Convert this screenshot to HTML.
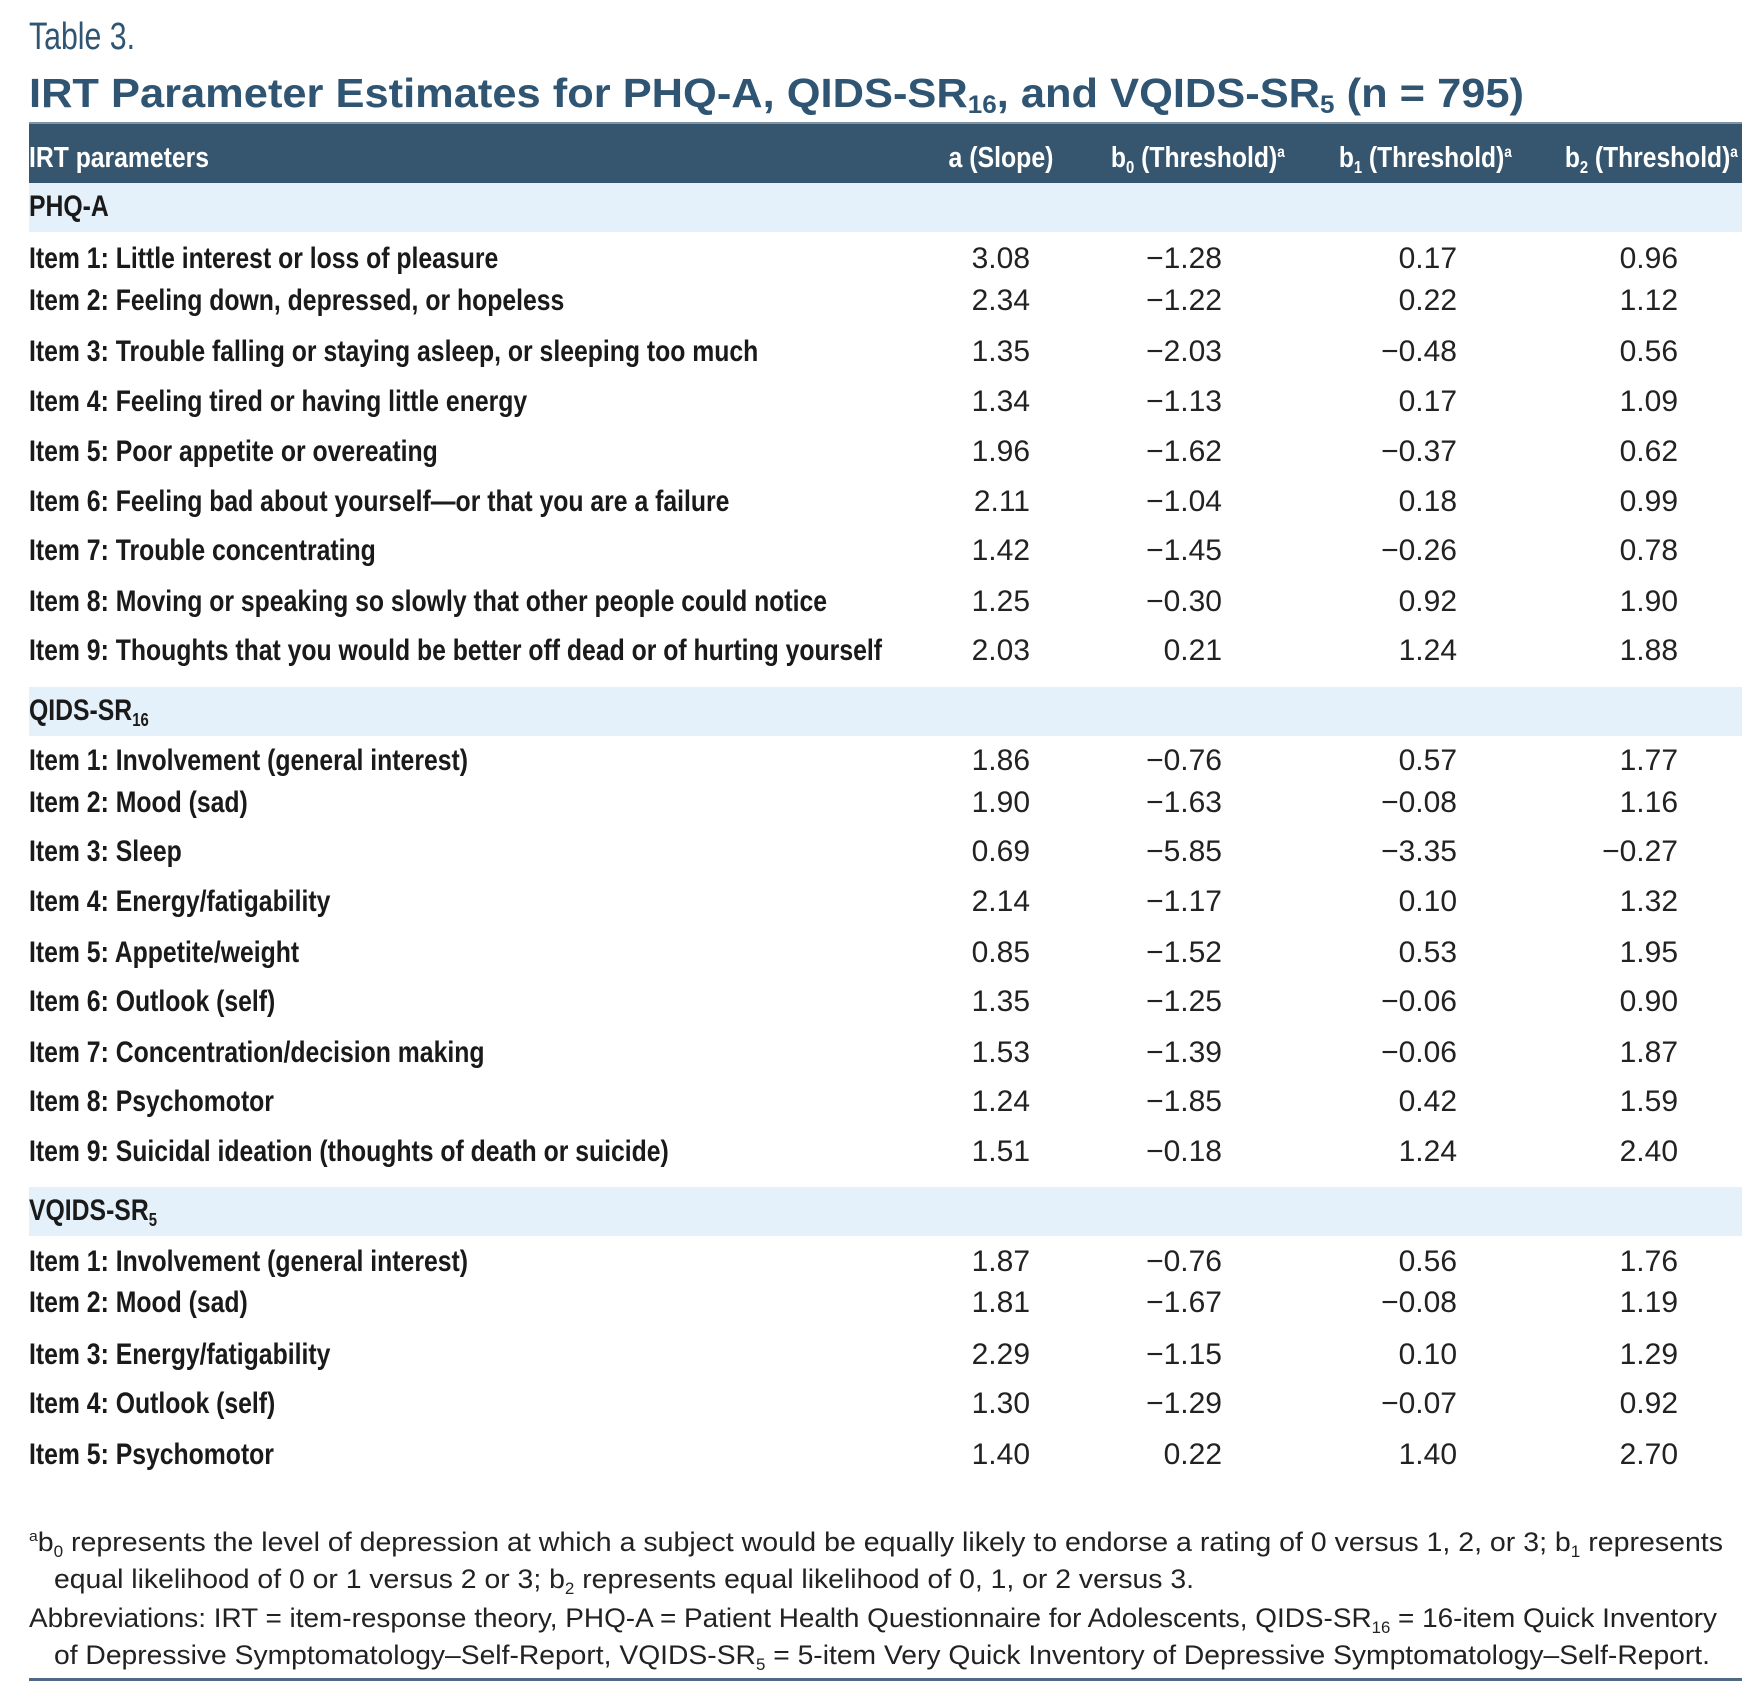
<!DOCTYPE html>
<html><head><meta charset="utf-8">
<style>
body{margin:0;width:1760px;height:1703px;background:#fff;position:relative;overflow:hidden;font-family:"Liberation Sans Narrow","Liberation Sans",sans-serif;}
.a{position:absolute;white-space:nowrap;transform-origin:0 50%;}
.r{position:absolute;white-space:nowrap;transform-origin:100% 50%;text-align:right;}
.lbl{font-weight:bold;font-size:30px;color:#1a1a1a;line-height:40px;}
.num{font-size:30px;color:#222;line-height:40px;}
.band{position:absolute;left:29px;width:1713px;background:#e4f1fa;}
.hd{font-weight:bold;font-size:29px;color:#fff;line-height:40px;}
.fn{font-size:27px;color:#222;line-height:36px;}
sub{font-size:60%;vertical-align:-6px;line-height:0}
sup{font-size:55%;vertical-align:10px;line-height:0}
</style></head><body>
<div class="a" id="t3" style="left:29px;top:14px;font-size:38px;color:#2f5573;line-height:46px;">Table 3.</div>
<div class="a" id="title" style="left:29px;top:68px;font-size:41px;font-weight:bold;color:#2f5573;line-height:50px;">IRT Parameter Estimates for PHQ-A, QIDS-SR<sub>16</sub>, and VQIDS-SR<sub>5</sub> (n = 795)</div>
<div style="position:absolute;left:29px;top:122px;width:1713px;height:62px;background:#36566f;border-top:2px solid #7f93a3;box-sizing:border-box"></div>
<div class="a hd" id="h0" style="left:29px;top:138px">IRT parameters</div>
<div class="r hd" id="h1" style="right:707px;top:138px">a (Slope)</div>
<div class="r hd" id="h2" style="right:475px;top:138px">b<sub>0</sub> (Threshold)<sup>a</sup></div>
<div class="r hd" id="h3" style="right:248px;top:138px">b<sub>1</sub> (Threshold)<sup>a</sup></div>
<div class="r hd" id="h4" style="right:22px;top:138px">b<sub>2</sub> (Threshold)<sup>a</sup></div>
<div id="tbl"></div>
<div class="a fn" id="fn1" style="left:29px;top:1524px"><sup>a</sup>b<sub>0</sub> represents the level of depression at which a subject would be equally likely to endorse a rating of 0 versus 1, 2, or 3; b<sub>1</sub> represents</div>
<div class="a fn" id="fn2" style="left:54px;top:1561px">equal likelihood of 0 or 1 versus 2 or 3; b<sub>2</sub> represents equal likelihood of 0, 1, or 2 versus 3.</div>
<div class="a fn" id="fn3" style="left:29px;top:1600px">Abbreviations: IRT = item-response theory, PHQ-A = Patient Health Questionnaire for Adolescents, QIDS-SR<sub>16</sub> = 16-item Quick Inventory</div>
<div class="a fn" id="fn4" style="left:54px;top:1637px">of Depressive Symptomatology–Self-Report, VQIDS-SR<sub>5</sub> = 5-item Very Quick Inventory of Depressive Symptomatology–Self-Report.</div>
<div style="position:absolute;left:29px;top:1678px;width:1713px;height:3px;background:#4d6b86"></div>
<script>
const sections=["PHQ-A","QIDS-SR<sub>16</sub>","VQIDS-SR<sub>5</sub>"];
const sectionTops=[183,687,1187];
const labels=[
["Item 1: Little interest or loss of pleasure","Item 2: Feeling down, depressed, or hopeless","Item 3: Trouble falling or staying asleep, or sleeping too much","Item 4: Feeling tired or having little energy","Item 5: Poor appetite or overeating","Item 6: Feeling bad about yourself—or that you are a failure","Item 7: Trouble concentrating","Item 8: Moving or speaking so slowly that other people could notice","Item 9: Thoughts that you would be better off dead or of hurting yourself"],
["Item 1: Involvement (general interest)","Item 2: Mood (sad)","Item 3: Sleep","Item 4: Energy/fatigability","Item 5: Appetite/weight","Item 6: Outlook (self)","Item 7: Concentration/decision making","Item 8: Psychomotor","Item 9: Suicidal ideation (thoughts of death or suicide)"],
["Item 1: Involvement (general interest)","Item 2: Mood (sad)","Item 3: Energy/fatigability","Item 4: Outlook (self)","Item 5: Psychomotor"]];
const rowY=[[259,301,352,402,452,502,551,602,651],[761,803,852,902,953,1002,1053,1102,1152],[1262,1303,1355,1404,1455]];
const slope=[[3.08,2.34,1.35,1.34,1.96,2.11,1.42,1.25,2.03],[1.86,1.90,0.69,2.14,0.85,1.35,1.53,1.24,1.51],[1.87,1.81,2.29,1.30,1.40]];
const b0=[[-1.28,-1.22,-2.03,-1.13,-1.62,-1.04,-1.45,-0.30,0.21],[-0.76,-1.63,-5.85,-1.17,-1.52,-1.25,-1.39,-1.85,-0.18],[-0.76,-1.67,-1.15,-1.29,0.22]];
const b1=[[0.17,0.22,-0.48,0.17,-0.37,0.18,-0.26,0.92,1.24],[0.57,-0.08,-3.35,0.10,0.53,-0.06,-0.06,0.42,1.24],[0.56,-0.08,0.10,-0.07,1.40]];
const b2=[[0.96,1.12,0.56,1.09,0.62,0.99,0.78,1.90,1.88],[1.77,1.16,-0.27,1.32,1.95,0.90,1.87,1.59,2.40],[1.76,1.19,1.29,0.92,2.70]];
const tbl=document.getElementById('tbl');
function fmt(v){return (v<0?'\u2212':'')+Math.abs(v).toFixed(2);}
const allLabels=[];
sections.forEach((s,si)=>{
  const band=document.createElement('div');band.className='band';
  
  
  band.style.top=sectionTops[si]+'px';band.style.height='49px';tbl.appendChild(band);
  const st=document.createElement('div');st.className='a lbl';st.innerHTML=s;
  
  
  st.style.left='29px';st.style.top=(sectionTops[si]+4)+'px';tbl.appendChild(st);allLabels.push(st);
  labels[si].forEach((l,ri)=>{
    const y=rowY[si][ri]-20;
    const d=document.createElement('div');d.className='a lbl';d.textContent=l;
    
    
    d.style.left='29px';d.style.top=y+'px';tbl.appendChild(d);allLabels.push(d);
    [slope,b0,b1,b2].forEach((arr,ci)=>{
      const n=document.createElement('div');n.className='r num';n.textContent=fmt(arr[si][ri]);
      
      
      n.style.right=(1760-[1030,1222,1457,1678][ci])+'px';n.style.top=y+'px';tbl.appendChild(n);
    });
  });
});
function fit(el,w){const cw=el.getBoundingClientRect().width;if(cw>0)el.style.transform='scaleX('+(w/cw)+')';return w/cw;}
const k=fit(allLabels[9],853);
allLabels.forEach(e=>e.style.transform='scaleX('+k+')');
fit(document.getElementById('title'),1495);
fit(document.getElementById('t3'),106);
fit(document.getElementById('fn1'),1694);
fit(document.getElementById('fn3'),1688);
fit(document.getElementById('fn4'),1656);
fit(document.getElementById('fn2'),1140);
fit(document.getElementById('h0'),180);
fit(document.getElementById('h1'),105);
fit(document.getElementById('h2'),174);
fit(document.getElementById('h3'),173);
fit(document.getElementById('h4'),173);
</script>
</body></html>
